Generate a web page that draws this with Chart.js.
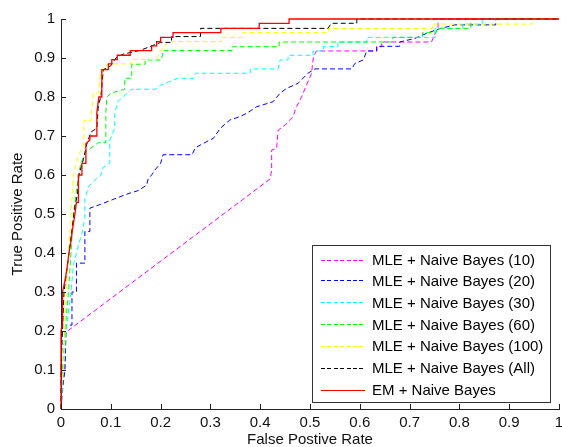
<!DOCTYPE html>
<html>
<head>
<meta charset="utf-8">
<script src="https://cdn.jsdelivr.net/npm/chart.js@4"></script>
<style>
  html, body { margin: 0; padding: 0; background: #fff; }
  #wrap { width: 562px; height: 447px; }
</style>
</head>
<body>
<div id="wrap"><canvas id="rocChart" width="562" height="447"></canvas></div>
<script>
// tick values for both axes
const xTicks = [0, 0.1, 0.2, 0.3, 0.4, 0.5, 0.6, 0.7, 0.8, 0.9, 1];
const yTicks = [0, 0.1, 0.2, 0.3, 0.4, 0.5, 0.6, 0.7, 0.8, 0.9, 1];

const seriesNames = [
    'MLE + Naive Bayes (10)',
    'MLE + Naive Bayes (20)',
    'MLE + Naive Bayes (30)',
    'MLE + Naive Bayes (60)',
    'MLE + Naive Bayes (100)',
    'MLE + Naive Bayes (All)',
    'EM + Naive Bayes'
];

// ROC points [false positive rate, true positive rate]
const mle10 = [[0,0],[0,0.05],[0.004,0.067],[0.008,0.13],[0.008,0.195],[0.42,0.59],[0.423,0.613],[0.423,0.664],
    [0.433,0.668],[0.436,0.715],[0.45,0.728],[0.466,0.75],[0.473,0.775],[0.483,0.8],[0.493,0.831],[0.503,0.86],
    [0.507,0.904],[0.513,0.918],[0.634,0.918],[0.634,0.929],[0.644,0.929],[0.644,0.941],[0.744,0.941],
    [0.752,0.965],[0.757,0.976],[0.757,1],[1,1]];

const mle20 = [[0,0],[0.003,0.05],[0.008,0.1],[0.01,0.19],[0.01,0.215],[0.022,0.215],[0.022,0.3],[0.031,0.3],
    [0.031,0.374],[0.048,0.374],[0.048,0.455],[0.058,0.455],[0.058,0.515],[0.08,0.525],[0.1,0.535],[0.13,0.55],
    [0.155,0.56],[0.172,0.574],[0.175,0.59],[0.182,0.6],[0.19,0.615],[0.2,0.63],[0.205,0.652],[0.263,0.652],
    [0.27,0.67],[0.299,0.69],[0.306,0.694],[0.32,0.72],[0.339,0.741],[0.36,0.75],[0.375,0.76],[0.393,0.775],
    [0.426,0.788],[0.44,0.81],[0.453,0.822],[0.476,0.835],[0.496,0.861],[0.51,0.872],[0.584,0.872],
    [0.59,0.886],[0.607,0.895],[0.614,0.918],[0.634,0.918],[0.634,0.93],[0.68,0.93],[0.68,0.941],
    [0.71,0.95],[0.734,0.963],[0.76,0.975],[0.791,0.985],[0.873,0.985],[0.873,1],[1,1]];

const mle30 = [[0,0],[0.005,0.1],[0.01,0.2],[0.02,0.3],[0.025,0.37],[0.035,0.42],[0.042,0.45],[0.048,0.49],
    [0.048,0.54],[0.055,0.57],[0.068,0.587],[0.08,0.6],[0.085,0.62],[0.098,0.63],[0.098,0.69],[0.108,0.72],
    [0.108,0.76],[0.115,0.79],[0.125,0.8],[0.142,0.82],[0.19,0.82],[0.2,0.83],[0.234,0.848],[0.267,0.848],
    [0.27,0.861],[0.38,0.861],[0.38,0.872],[0.436,0.872],[0.44,0.895],[0.456,0.895],[0.456,0.907],
    [0.506,0.907],[0.506,0.918],[0.527,0.918],[0.527,0.929],[0.556,0.929],[0.556,0.941],[0.614,0.941],
    [0.614,0.953],[0.751,0.953],[0.751,0.976],[0.807,0.976],[0.807,0.987],[0.846,0.987],[0.846,1],[1,1]];

const mle60 = [[0,0],[0.003,0.1],[0.008,0.2],[0.015,0.3],[0.02,0.4],[0.025,0.5],[0.03,0.55],[0.035,0.6],
    [0.04,0.63],[0.05,0.66],[0.075,0.683],[0.09,0.683],[0.09,0.76],[0.092,0.8],[0.1,0.81],[0.128,0.82],
    [0.128,0.848],[0.142,0.848],[0.142,0.884],[0.169,0.884],[0.169,0.895],[0.202,0.895],[0.205,0.919],
    [0.344,0.919],[0.344,0.929],[0.438,0.929],[0.438,0.941],[0.665,0.941],[0.667,0.953],[0.726,0.953],
    [0.726,0.965],[0.753,0.965],[0.756,0.976],[0.823,0.976],[0.823,1],[1,1]];

const mle100 = [[0,0],[0,0.05],[0.005,0.1],[0.008,0.2],[0.01,0.3],[0.015,0.4],[0.02,0.5],[0.025,0.6],
    [0.035,0.65],[0.046,0.68],[0.046,0.74],[0.06,0.74],[0.065,0.81],[0.075,0.81],[0.08,0.87],[0.095,0.885],
    [0.142,0.885],[0.142,0.896],[0.192,0.896],[0.2,0.92],[0.209,0.931],[0.215,0.942],[0.323,0.942],
    [0.323,0.953],[0.365,0.953],[0.365,0.965],[0.537,0.965],[0.537,0.976],[0.746,0.976],[0.746,0.987],
    [0.947,0.987],[0.947,1],[1,1]];

const mleAll = [[0,0],[0,0.1],[0.003,0.2],[0.006,0.3],[0.012,0.36],[0.016,0.4],[0.022,0.46],[0.028,0.52],
    [0.033,0.55],[0.036,0.6],[0.045,0.64],[0.052,0.68],[0.06,0.71],[0.072,0.72],[0.075,0.78],[0.08,0.8],
    [0.085,0.87],[0.1,0.88],[0.11,0.9],[0.125,0.91],[0.16,0.92],[0.2,0.94],[0.222,0.94],[0.222,0.955],
    [0.28,0.955],[0.28,0.976],[0.536,0.976],[0.543,0.989],[0.594,0.989],[0.594,1],[1,1]];

const em = [[0,0],[0,0.2],[0.003,0.22],[0.003,0.3],[0.008,0.33],[0.012,0.36],[0.016,0.4],[0.02,0.43],
    [0.023,0.46],[0.028,0.5],[0.031,0.53],[0.035,0.53],[0.035,0.6],[0.042,0.6],[0.042,0.63],[0.05,0.63],
    [0.05,0.68],[0.058,0.69],[0.058,0.7],[0.072,0.7],[0.072,0.76],[0.076,0.8],[0.082,0.8],[0.082,0.87],
    [0.095,0.87],[0.095,0.885],[0.102,0.885],[0.102,0.896],[0.113,0.896],[0.113,0.907],[0.139,0.907],
    [0.139,0.919],[0.182,0.919],[0.182,0.931],[0.192,0.931],[0.192,0.942],[0.2,0.942],[0.2,0.953],
    [0.225,0.953],[0.225,0.965],[0.321,0.965],[0.321,0.976],[0.398,0.976],[0.398,0.989],[0.458,0.989],
    [0.458,1],[1,1]];

const seriesData = [mle10, mle20, mle30, mle60, mle100, mleAll, em];
const seriesColors = ['#ff00ff', '#0000ff', '#00ffff', '#00ff00', '#ffff00', '#000000', '#ff0000'];

const FONT = 'Liberation Sans, Arial, sans-serif';
const axisColor = '#222';

function makeDataset(i) {
    const dashed = i < 6;
    return {
        label: seriesNames[i],
        data: seriesData[i].map(p => ({ x: p[0], y: p[1] })),
        borderColor: seriesColors[i],
        backgroundColor: seriesColors[i],
        borderWidth: dashed ? 1 : 1.3,
        borderDash: dashed ? [5, 3] : [],
        pointRadius: 0,
        tension: 0,
        fill: false,
        clip: 4,
        order: 7 - i  // later series on top, like the original plot
    };
}

// inward tick marks, MATLAB style
const innerTicks = {
    id: 'innerTicks',
    afterDatasetsDraw(chart) {
        const { ctx, scales: { x, y } } = chart;
        ctx.save();
        ctx.strokeStyle = axisColor;
        ctx.lineWidth = 1;
        ctx.beginPath();
        xTicks.forEach(v => {
            const px = Math.round(x.getPixelForValue(v)) + 0.5;
            ctx.moveTo(px, y.bottom);
            ctx.lineTo(px, y.bottom - 5);
        });
        yTicks.forEach(v => {
            const py = Math.round(y.getPixelForValue(v)) + 0.5;
            ctx.moveTo(x.left, py);
            ctx.lineTo(x.left + 5, py);
        });
        ctx.stroke();
        ctx.restore();
    }
};

// boxed legend in the lower right corner of the axes
const boxLegend = {
    id: 'boxLegend',
    afterDraw(chart) {
        const { ctx, chartArea } = chart;
        const w = 238, rowH = 21.67;
        const h = Math.round(rowH * seriesNames.length + 5);
        const right = Math.round(chartArea.right - 9);
        const bottom = Math.round(chartArea.bottom - 7);
        const left = right - w, top = bottom - h;
        ctx.save();
        ctx.fillStyle = '#fff';
        ctx.fillRect(left, top, w, h);
        ctx.strokeStyle = '#333';
        ctx.lineWidth = 1;
        ctx.strokeRect(left + 0.5, top + 0.5, w, h);
        ctx.font = '15px ' + FONT;
        ctx.textBaseline = 'middle';
        seriesNames.forEach((name, i) => {
            const rowY = top + 14 + i * rowH;
            const cy = 2 * Math.round(rowY / 2);
            ctx.fillStyle = seriesColors[i];
            if (i < 6) {
                // dashed sample, one pixel high
                for (let k = 0; k < 7; k++) {
                    const sx = Math.round(left + 9 + k * 6.4);
                    ctx.fillRect(sx, cy, 4, 1);
                }
            } else {
                ctx.fillRect(left + 9, cy, 44, 1);
            }
            ctx.fillStyle = '#000';
            ctx.fillText(name, left + 60, rowY + 1.5);
        });
        ctx.restore();
    }
};

new Chart(document.getElementById('rocChart').getContext('2d'), {
    type: 'line',
    data: { datasets: seriesData.map((_, i) => makeDataset(i)) },
    options: {
        responsive: false,
        animation: false,
        layout: { padding: { top: 19, right: 3, left: 0, bottom: 0 } },
        plugins: { legend: { display: false }, tooltip: { enabled: false } },
        scales: {
            x: {
                type: 'linear',
                min: 0,
                max: 1,
                afterBuildTicks: s => { s.ticks = xTicks.map(v => ({ value: v })); },
                afterFit: s => { s.height = 38; s.paddingLeft = 0; s.paddingRight = 0; },
                grid: { display: false, drawTicks: false, tickLength: 0 },
                border: { display: true, color: axisColor, width: 1 },
                ticks: {
                    color: '#111',
                    font: { family: FONT, size: 15 },
                    padding: 5,
                    maxRotation: 0,
                    autoSkip: false,
                    callback: v => String(v)
                },
                title: {
                    display: true,
                    text: 'False Postive Rate',
                    color: '#111',
                    font: { family: FONT, size: 15, lineHeight: 1 },
                    padding: { top: 0, bottom: 0 }
                }
            },
            y: {
                type: 'linear',
                min: 0,
                max: 1,
                afterBuildTicks: s => { s.ticks = yTicks.map(v => ({ value: v })); },
                afterFit: s => { s.width = 61; s.paddingTop = 0; s.paddingBottom = 0; },
                grid: { display: false, drawTicks: false, tickLength: 0 },
                border: { display: true, color: axisColor, width: 1 },
                ticks: {
                    color: '#111',
                    font: { family: FONT, size: 15 },
                    padding: 6,
                    autoSkip: false,
                    callback: v => String(v)
                },
                title: {
                    display: true,
                    text: 'True Positive Rate',
                    color: '#111',
                    font: { family: FONT, size: 15, lineHeight: 1 },
                    padding: { top: 10, bottom: 0 }
                }
            }
        }
    },
    plugins: [innerTicks, boxLegend]
});
</script>
</body>
</html>
